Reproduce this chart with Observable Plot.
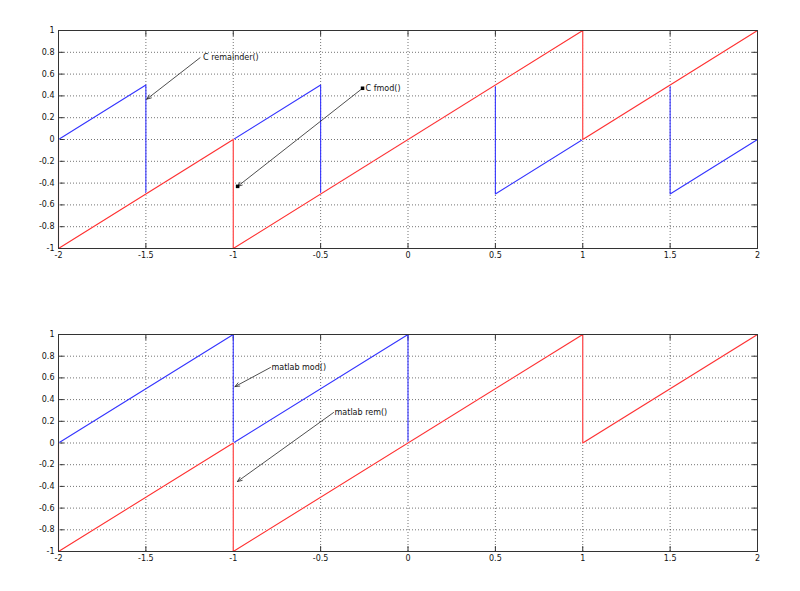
<!DOCTYPE html>
<html>
<head>
<meta charset="utf-8">
<script src="https://cdn.jsdelivr.net/npm/d3@7"></script>
<script src="https://cdn.jsdelivr.net/npm/@observablehq/plot@0.6"></script>
<style>
  html, body { margin: 0; padding: 0; background: #fff; }
  #chart > * { display: block; }
</style>
</head>
<body>
<div id="chart"></div>
<script>
// Tick values
const xTicks = [-2, -1.5, -1, -0.5, 0, 0.5, 1, 1.5, 2];
const yTicks = [-1, -0.8, -0.6, -0.4, -0.2, 0, 0.2, 0.4, 0.6, 0.8, 1];

// Top panel: C remainder() (blue) and C fmod() (red), vertices
const cRemainderX = [-2, -1.5, -1.5, -0.5, -0.5, 0.5, 0.5, 1.5, 1.5, 2];
const cRemainderY = [0, 0.5, -0.5, 0.5, -0.5, 0.5, -0.5, 0.5, -0.5, 0];
const cFmodX = [-2, -2, -1, -1, 1, 1, 2];
const cFmodY = [0, -1, 0, -1, 1, 0, 1];

// Bottom panel: matlab mod() (blue) and matlab rem() (red), vertices
const mModX = [-2, -1, -1, 0, 0, 1, 1, 2];
const mModY = [0, 1, 0, 1, 0, 1, 0, 1];
const mRemX = [-2, -2, -1, -1, 1, 1, 2];
const mRemY = [0, -1, 0, -1, 1, 0, 1];

// Annotations
const topLabels = ["C remainder()", "C fmod()"];
const topFromX = [-1.19, -0.26];
const topFromY = [0.75, 0.47];
const topToX = [-1.495, -0.975];
const topToY = [0.37, -0.43];
const topSquares = [1]; // index of annotation with square endpoints

const botLabels = ["matlab mod()", "matlab rem()"];
const botFromX = [-0.787, -0.426];
const botFromY = [0.696, 0.281];
const botToX = [-0.99, -0.976];
const botToY = [0.52, -0.355];

const FONT = "DejaVu Sans";
const RED = "#ff3030";
const BLUE = "#3434ff";

const pts = (xs, ys) => xs.map((x, i) => ({x, y: ys[i]}));
const ann = (labels, fx, fy, tx, ty) => labels.map((label, i) => ({label, x1: fx[i], y1: fy[i], x2: tx[i], y2: ty[i]}));

const tickShape = {draw(ctx, l) { ctx.moveTo(0, 0); ctx.lineTo(0, -l); }};

function panel({height, marginTop, marginBottom, series, annotations, squares}) {
  const xMin = xTicks[0], xMax = xTicks[xTicks.length - 1];
  const yMin = yTicks[0], yMax = yTicks[yTicks.length - 1];
  const marks = [
    Plot.gridX(xTicks, {stroke: "#000", strokeOpacity: 0.55, strokeDasharray: "1,2"}),
    Plot.gridY(yTicks, {stroke: "#000", strokeOpacity: 0.55, strokeDasharray: "1,2"}),
    Plot.axisX(xTicks, {tickSize: 0, tickPadding: 4, fontSize: 8, tickFormat: d => String(d)}),
    Plot.axisY(yTicks, {tickSize: 0, tickPadding: 4, fontSize: 8, tickFormat: d => String(d)}),
    Plot.vector(xTicks, {x: d => d, y: yMin, length: 5, rotate: 0, anchor: "start", shape: tickShape, stroke: "#333", strokeWidth: 1}),
    Plot.vector(xTicks, {x: d => d, y: yMax, length: 5, rotate: 180, anchor: "start", shape: tickShape, stroke: "#333", strokeWidth: 1}),
    Plot.vector(yTicks, {x: xMin, y: d => d, length: 5, rotate: 90, anchor: "start", shape: tickShape, stroke: "#333", strokeWidth: 1}),
    Plot.vector(yTicks, {x: xMax, y: d => d, length: 5, rotate: 270, anchor: "start", shape: tickShape, stroke: "#333", strokeWidth: 1}),
    ...series.flatMap(s => [
      ...(s.halo ? [Plot.line(s.data, {x: "x", y: "y", stroke: "#fff", strokeWidth: 2.2})] : []),
      Plot.line(s.data, {x: "x", y: "y", stroke: s.color, strokeWidth: 1.1})
    ]),
    Plot.arrow(annotations, {x1: "x1", y1: "y1", x2: "x2", y2: "y2", stroke: "#222", strokeWidth: 0.8, headLength: 9, headAngle: 45}),
    Plot.text(annotations, {x: "x1", y: "y1", text: "label", textAnchor: "start", dx: squares ? 3 : 1, fontSize: 8, fill: "#111"}),
    Plot.frame({stroke: "#333", strokeWidth: 1})
  ];
  if (squares) {
    const sq = squares.flatMap(i => [{x: annotations[i].x1, y: annotations[i].y1}, {x: annotations[i].x2, y: annotations[i].y2}]);
    marks.push(Plot.dot(sq, {x: "x", y: "y", symbol: "square", r: 2, fill: "#000", stroke: "none"}));
  }
  return Plot.plot({
    width: 800,
    height,
    marginLeft: 58,
    marginRight: 43,
    marginTop,
    marginBottom,
    style: {fontFamily: FONT, fontSize: "8px", color: "#111", background: "#fff"},
    x: {domain: [xMin, xMax], label: null},
    y: {domain: [yMin, yMax], label: null},
    marks
  });
}

const topPanel = panel({
  height: 295, marginTop: 30, marginBottom: 47,
  series: [
    {data: pts(cRemainderX, cRemainderY), color: BLUE, halo: false},
    {data: pts(cFmodX, cFmodY), color: RED, halo: true}
  ],
  annotations: ann(topLabels, topFromX, topFromY, topToX, topToY),
  squares: topSquares
});
const bottomPanel = panel({
  height: 296, marginTop: 39, marginBottom: 40,
  series: [
    {data: pts(mModX, mModY), color: BLUE, halo: false},
    {data: pts(mRemX, mRemY), color: RED, halo: true}
  ],
  annotations: ann(botLabels, botFromX, botFromY, botToX, botToY),
  squares: null
});
document.getElementById("chart").append(topPanel, bottomPanel);
</script>
</body>
</html>
